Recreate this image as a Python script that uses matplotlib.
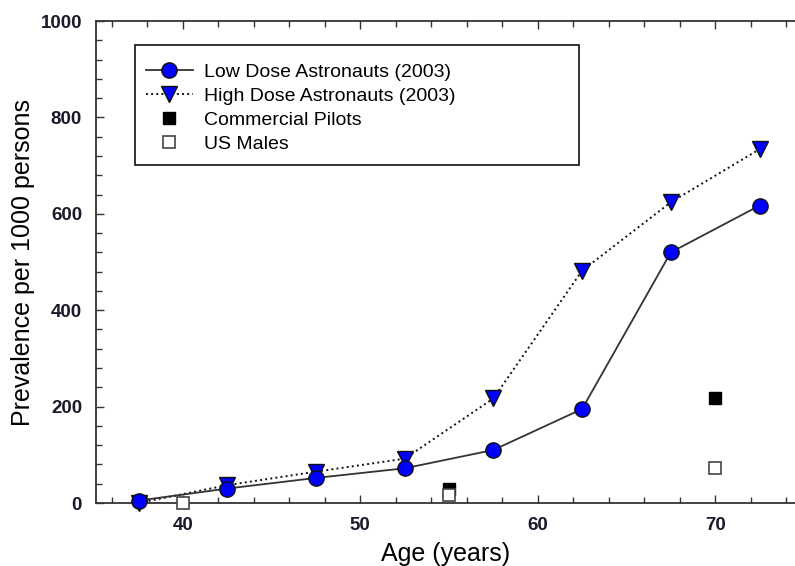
import matplotlib
matplotlib.use("Agg")
import matplotlib.pyplot as plt
from matplotlib.ticker import MultipleLocator
from matplotlib.patches import Rectangle

plt.rcParams['font.family'] = ['Liberation Sans', 'DejaVu Sans']

age_astro = [37.5, 42.5, 47.5, 52.5, 57.5, 62.5, 67.5, 72.5]
low_dose = [5, 30, 52, 72, 110, 195, 520, 617]
high_dose = [0, 37, 65, 92, 217, 482, 624, 734]
age_pilots = [55, 70]
pilots = [30, 218]
age_males = [40, 55, 70]
us_males = [0, 17, 72]

fig = plt.figure(figsize=(7.95, 5.66), dpi=100)
ax = fig.add_axes([96/795, 1-503/566, 1-96/795, (503-21)/566])

ax.plot(age_astro, low_dose, '-', color='#333333', lw=1.3, marker='o', ms=11,
        mfc='#0000ff', mec='#111111', mew=1.0, label='Low Dose Astronauts (2003)', zorder=4,
        clip_on=False)
ax.plot(age_astro, high_dose, ':', color='#111111', lw=1.4, marker='v', ms=11,
        mfc='#0000ff', mec='#111111', mew=1.0, label='High Dose Astronauts (2003)', zorder=3,
        clip_on=False)
ax.plot(age_pilots, pilots, 's', ls='none', ms=9, mfc='black', mec='black', mew=1.0,
        label='Commercial Pilots', zorder=5, clip_on=False)
ax.plot(age_males, us_males, 's', ls='none', ms=9, mfc='white', mec='#444444', mew=1.2,
        label='US Males', zorder=6, clip_on=False)

ax.set_xlim(35.1, 74.5)
ax.set_ylim(0, 1000)
ax.xaxis.set_major_locator(MultipleLocator(10))
ax.xaxis.set_minor_locator(MultipleLocator(2))
ax.yaxis.set_major_locator(MultipleLocator(200))
ax.yaxis.set_minor_locator(MultipleLocator(40))
ax.tick_params(which='both', direction='in', top=True, right=False, color='#333333')
ax.tick_params(which='major', length=6, width=1.0, labelsize=13.5, labelcolor='#1a1a2a', pad=10)
ax.tick_params(which='minor', length=4, width=1.0)
for lab in ax.get_xticklabels() + ax.get_yticklabels():
    lab.set_fontweight('bold')
ax.spines['right'].set_visible(False)
for s in ['left', 'bottom', 'top']:
    ax.spines[s].set_color('#333333')
    ax.spines[s].set_linewidth(1.3)

ax.set_xlabel('Age (years)', fontsize=18, labelpad=6)
ax.set_ylabel('Prevalence per 1000 persons', fontsize=18, labelpad=4)

leg = ax.legend(loc='upper left', bbox_to_anchor=(146/795, 1-63/566), bbox_transform=fig.transFigure,
                fontsize=14, frameon=False, handlelength=2.4, handletextpad=0.6,
                labelspacing=0.34, borderpad=0, borderaxespad=0)
fig.patches.append(Rectangle((135/795, 1-165/566), 444/795, 120/566, transform=fig.transFigure,
                             fill=False, edgecolor='#222222', linewidth=1.3, zorder=10))

fig.savefig('out.png', dpi=100)
